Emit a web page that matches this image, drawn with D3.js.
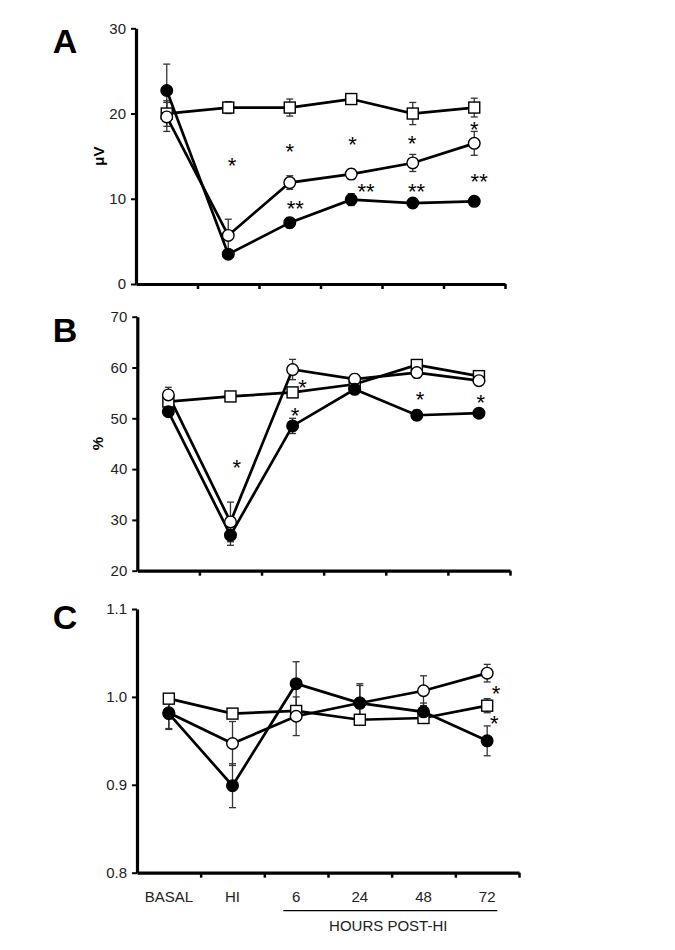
<!DOCTYPE html>
<html><head><meta charset="utf-8">
<script src="https://cdn.jsdelivr.net/npm/d3@7"></script>
<style>
body{margin:0;background:#fff;}
text{font-family:"Liberation Sans",Arial,sans-serif;}
</style></head>
<body><svg id="chart" width="675" height="950"></svg>
<script>
const categories = ["BASAL","HI","6","24","48","72"];

// Panel A (µV)
const aTicks = [0,10,20,30];
const aSquare = [20.0,20.7,20.7,21.7,20.0,20.7];
const aSquareErr = [1.5,0.7,1.0,0.3,1.3,1.1];
const aOpen = [19.6,5.7,11.9,12.9,14.2,16.5];
const aOpenErr = [1.7,1.9,0.8,0.6,1.0,1.4];
const aFilled = [22.7,3.5,7.2,9.9,9.5,9.7];
const aFilledErr = [3.1,0.3,0.6,0.7,0.3,0.3];
const aStars = [
  {x:1.56,v:14.5,t:"*"},{x:2.50,v:16.1,t:"*"},{x:3.52,v:17.0,t:"*"},{x:4.49,v:17.1,t:"*"},{x:5.50,v:18.7,t:"*"},
  {x:2.59,v:9.5,t:"**"},{x:3.74,v:11.4,t:"**"},{x:4.56,v:11.4,t:"**"},{x:5.58,v:12.6,t:"**"}
];

// Panel B (%)
const bTicks = [20,30,40,50,60,70];
const bSquare = [53.3,54.3,55.1,56.7,60.5,58.3];
const bSquareErr = [0.8,0.4,0.5,0.5,0.6,0.5];
const bOpen = [54.6,29.6,59.6,57.7,59.0,57.4];
const bOpenErr = [1.5,3.9,2.0,1.0,1.0,0.6];
const bFilled = [51.3,27.0,48.5,55.7,50.6,51.0];
const bFilledErr = [0.6,2.0,1.5,0.8,1.0,0.5];
const bStars = [
  {x:1.60,v:41.3,t:"*"},{x:2.66,v:57.0,t:"*"},{x:2.54,v:51.6,t:"*"},{x:4.55,v:54.6,t:"*"},{x:5.53,v:54.1,t:"*"}
];

// Panel C
const cTicks = [0.8,0.9,1.0,1.1];
const cTickLabels = ["0.8","0.9","1.0","1.1"];
const cSquare = [0.998,0.981,0.984,0.974,0.976,0.990];
const cSquareErr = [0.004,0.004,0.004,0.003,0.006,0.008];
const cOpen = [0.982,0.947,0.978,0.993,1.007,1.027];
const cOpenErr = [0.018,0.025,0.022,0.022,0.017,0.010];
const cFilled = [0.981,0.899,1.015,0.993,0.983,0.950];
const cFilledErr = [0.018,0.025,0.025,0.020,0.010,0.017];
const cStars = [{x:5.64,v:1.0098,t:"*"},{x:5.61,v:0.9757,t:"*"}];

const panels = [
  {label:"A", ylab:"\u03bcV", ticks:aTicks, fmt:d=>String(d), dom:[0,30], x0:136, x1:505, yTop:28.3, yBot:284,
   sq:aSquare, sqE:aSquareErr, op:aOpen, opE:aOpenErr, fi:aFilled, fiE:aFilledErr, stars:aStars, ylx:98, lab:[65,41]},
  {label:"B", ylab:"%", ticks:bTicks, fmt:d=>String(d), dom:[20,70], x0:137.3, x1:510, yTop:316.7, yBot:570.7,
   sq:bSquare, sqE:bSquareErr, op:bOpen, opE:bOpenErr, fi:bFilled, fiE:bFilledErr, stars:bStars, ylx:97, lab:[65,330]},
  {label:"C", ylab:"", ticks:cTicks, fmt:(d,i)=>cTickLabels[i], dom:[0.8,1.1], x0:137, x1:519, yTop:609, yBot:872.7,
   sq:cSquare, sqE:cSquareErr, op:cOpen, opE:cOpenErr, fi:cFilled, fiE:cFilledErr, stars:cStars, ylx:97, lab:[65,617], xlabels:true}
];

const svg = d3.select("#chart");
const starSize = 22;

panels.forEach(p => {
  const g = svg.append("g");
  const y = d3.scaleLinear().domain(p.dom).range([p.yBot,p.yTop]);
  const xi = d3.scaleLinear().domain([0,categories.length]).range([p.x0,p.x1]);
  const xp = d3.scalePoint().domain(categories).range([p.x0,p.x1]).padding(0.5);

  // y axis
  const ya = g.append("g").attr("transform",`translate(${p.x0},0)`)
    .call(d3.axisLeft(y).tickValues(p.ticks).tickFormat(p.fmt).tickSize(5).tickPadding(5).tickSizeOuter(0));
  ya.select(".domain").attr("stroke","#000").attr("stroke-width",3.2);
  ya.selectAll(".tick line").attr("stroke","#000").attr("stroke-width",2);
  ya.selectAll(".tick text").attr("font-size",15).attr("fill","#222");

  // x axis (ticks at band boundaries)
  const xa = g.append("g").attr("transform",`translate(0,${p.yBot})`)
    .call(d3.axisBottom(xi).tickValues(d3.range(1,categories.length+1)).tickFormat("").tickSize(5).tickSizeOuter(0));
  xa.select(".domain").attr("stroke","#000").attr("stroke-width",3.2);
  xa.selectAll(".tick line").attr("stroke","#000").attr("stroke-width",2.5);

  // panel letter
  g.append("text").attr("x",p.lab[0]).attr("y",p.lab[1]).attr("text-anchor","middle")
    .attr("dominant-baseline","central").attr("font-size",34).attr("font-weight","bold").text(p.label);
  if (p.ylab) {
    g.append("text").attr("transform",`translate(${p.ylx},${(p.yTop+p.yBot)/2}) rotate(-90)`)
      .attr("text-anchor","middle").attr("dominant-baseline","central")
      .attr("font-size",15).attr("font-weight","bold").text(p.ylab);
  }

  const series = [
    {v:p.sq, e:p.sqE, type:"square"},
    {v:p.op, e:p.opE, type:"open"},
    {v:p.fi, e:p.fiE, type:"filled"}
  ];
  // error bars
  series.forEach(s => {
    const eb = g.append("g").attr("stroke","#333").attr("stroke-width",1.3);
    categories.forEach((c,i) => {
      const cx = xp(c), hi = y(s.v[i]+s.e[i]), lo = y(s.v[i]-s.e[i]);
      eb.append("line").attr("x1",cx).attr("x2",cx).attr("y1",hi).attr("y2",lo);
      eb.append("line").attr("x1",cx-3.5).attr("x2",cx+3.5).attr("y1",hi).attr("y2",hi);
      eb.append("line").attr("x1",cx-3.5).attr("x2",cx+3.5).attr("y1",lo).attr("y2",lo);
    });
  });
  // lines
  const line = d3.line().x((d,i)=>xp(categories[i])).y(d=>y(d));
  series.forEach(s => {
    g.append("path").datum(s.v).attr("d",line).attr("fill","none").attr("stroke","#000").attr("stroke-width",2.7);
  });
  // markers
  series.forEach(s => {
    categories.forEach((c,i) => {
      const cx = xp(c), cy = y(s.v[i]);
      if (s.type==="square") {
        g.append("rect").attr("x",cx-5.5).attr("y",cy-5.5).attr("width",11).attr("height",11)
          .attr("fill","#fff").attr("stroke","#000").attr("stroke-width",1.4);
      } else {
        g.append("circle").attr("cx",cx).attr("cy",cy).attr("r",5.8)
          .attr("fill", s.type==="open" ? "#fff" : "#000").attr("stroke","#000").attr("stroke-width",1.4);
      }
    });
  });
  // significance stars
  p.stars.forEach(s => {
    g.append("text").attr("x",xi(s.x)).attr("y",y(s.v)+0.57*starSize).attr("text-anchor","middle")
      .attr("font-size",starSize).attr("fill","#000").text(s.t);
  });

  if (p.xlabels) {
    categories.forEach(c => {
      g.append("text").attr("x",xp(c)).attr("y",p.yBot+24).attr("text-anchor","middle")
        .attr("dominant-baseline","central").attr("font-size",15).attr("fill","#222").text(c);
    });
    g.append("line").attr("x1",283.3).attr("x2",497.3).attr("y1",910.7).attr("y2",910.7)
      .attr("stroke","#000").attr("stroke-width",1.2);
    g.append("text").attr("x",388.3).attr("y",925).attr("text-anchor","middle")
      .attr("dominant-baseline","central").attr("font-size",15).attr("fill","#222").text("HOURS POST-HI");
  }
});
</script></body></html>
